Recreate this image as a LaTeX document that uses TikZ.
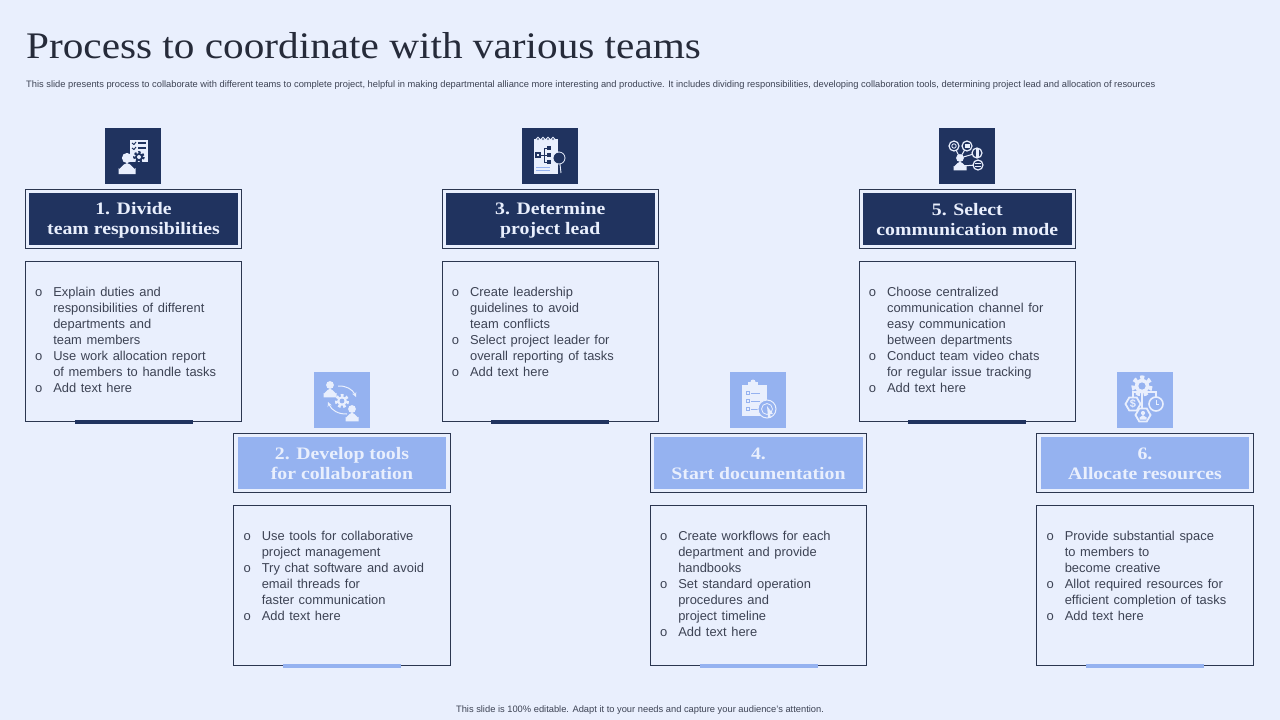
\documentclass[tikz,border=0pt]{standalone}
\usepackage{fontspec}
\setmainfont{Liberation Sans}
\newfontfamily\headfont[FakeStretch=1.1]{Liberation Serif}
\newfontfamily\stepfont[FakeStretch=1.13]{Liberation Serif}
\newfontfamily\listfont[WordSpace=1.3]{Liberation Sans}
\usetikzlibrary{positioning}
\usetikzlibrary{shapes.geometric}
\usetikzlibrary{arrows}
\definecolor{page colour}{HTML}{E9EFFD}
\definecolor{dark colour}{HTML}{20335F}
\definecolor{light colour}{HTML}{95B2F0}
\definecolor{line colour}{HTML}{2B3650}
\definecolor{text colour}{HTML}{3D4354}
\definecolor{title colour}{HTML}{262B3A}
\tikzset{
    % One unit is one pixel of the slide
    x=1pt, y=-1pt,
    >=stealth,
    outer box/.style={draw=line colour, line width=0.9pt, minimum width=216.5pt, minimum height=58.5pt},
    head box/.style={minimum width=208.5pt, minimum height=52pt, inner sep=0},
    head text/.style={inner sep=0, text=page colour, align=center,
        font=\stepfont\fontsize{17.5}{20}\selectfont\bfseries},
    body box/.style={draw=line colour, line width=0.9pt, minimum width=216.5pt, minimum height=160pt},
    body text/.style={anchor=north west, inner sep=0, align=left, text=text colour,
        font=\listfont\fontsize{12.9}{16}\selectfont},
    icon box/.style={minimum width=56pt, minimum height=56pt, inner sep=0},
    bar/.style={minimum width=118pt, minimum height=4pt, inner sep=0},
}
% Bullet hanging to the left of a text line
\newcommand{\bul}{\makebox[0pt][r]{\fontsize{13}{16}\selectfont o\hspace{11pt}}}
% A gear, as a disc with a dashed ring for teeth
\newcommand{\gear}[5]{
    \draw [#4, line width=#3*0.45pt, dash pattern=on #3*0.45pt off #3*0.4pt] (#1,#2) circle (#3*0.95);
    \fill [#4] (#1,#2) circle (#3*0.8);
    \fill [#5] (#1,#2) circle (#3*0.4);
}
\newcommand{\person}[4]{
    \fill [#4] (#1,#2) circle (#3*0.6);
    \fill [#4] (#1-#3,#2+#3*1.9) -- (#1-#3,#2+#3*1.2) to [out=-90, in=180] (#1,#2+#3*0.6)
        to [out=0, in=-90] (#1+#3,#2+#3*1.2) -- (#1+#3,#2+#3*1.9) -- cycle;
}
% One step: name, centre x, heading centre y, colour, heading, list, list y
\newcommand{\teamstep}[7]{
    \node [outer box] (outer #1) at (#2,#3) {};
    \node [head box, fill=#4] (head #1) at (#2,#3) {};
    \node [head text] (label #1) at (#2,#3+1) {#5};
    \node [body box, anchor=north] (body #1) at (#2,#3+42) {};
    \node [bar, fill=#4] (bar #1) at (body #1.south) {};
    \node [icon box, fill=#4] (icon #1) at (#2-0.5,#3-63.5) {};
    \node [body text] (list #1) at (#2-80.4,#7) {#6};
}
\begin{document}
\begin{tikzpicture}

% Fixes the extent of the slide
\path [use as bounding box, fill=page colour] (0,0) rectangle (1280,720);

\node [anchor=west, inner sep=0, text=title colour, font=\headfont\fontsize{37.5}{40}\selectfont] (title) at (26,46)
    {Process to coordinate with various teams};
\node [anchor=west, inner sep=0, text=text colour, font=\fontsize{9.33}{10}\selectfont] (subtitle) at (26,85)
    {This slide presents process to collaborate with different teams to complete project, helpful in making departmental alliance more interesting and productive. It includes dividing responsibilities, developing collaboration tools, determining project lead and allocation of resources};
\node [inner sep=0, text=text colour, font=\fontsize{9.33}{10}\selectfont] (footer) at (640,710)
    {This slide is 100\% editable. Adapt it to your needs and capture your audience's attention.};

% Steps on the upper row
\teamstep{1}{133.5}{219}{dark colour}{1. Divide\\team responsibilities}
    {\bul Explain duties and\\responsibilities of different\\departments and\\team members\\\bul Use work allocation report\\of members to handle tasks\\\bul Add text here}{287}
\teamstep{3}{550.3}{219}{dark colour}{3. Determine\\project lead}
    {\bul Create leadership\\guidelines to avoid\\team conflicts\\\bul Select project leader for\\overall reporting of tasks\\\bul Add text here}{287}
\teamstep{5}{967.3}{219}{dark colour}{5. Select\\communication mode}
    {\bul Choose centralized\\communication channel for\\easy communication\\between departments\\\bul Conduct team video chats\\for regular issue tracking\\\bul Add text here}{287}

% Steps on the lower row
\teamstep{2}{342}{463}{light colour}{2. Develop tools\\for collaboration}
    {\bul Use tools for collaborative\\project management\\\bul Try chat software and avoid\\email threads for\\faster communication\\\bul Add text here}{531}
\teamstep{4}{758.5}{463}{light colour}{4.\\Start documentation}
    {\bul Create workflows for each\\department and provide\\handbooks\\\bul Set standard operation\\procedures and\\project timeline\\\bul Add text here}{531}
\teamstep{6}{1145}{463}{light colour}{6.\\Allocate resources}
    {\bul Provide substantial space\\to members to\\become creative\\\bul Allot required resources for\\efficient completion of tasks\\\bul Add text here}{531}

% Icon 1: person with checklist
\fill [page colour] (130,140) rectangle (148,162);
\foreach \y in {143,148} {
    \draw [dark colour, line width=1pt] (132,\y) -- (134,\y+1.5) -- (136,\y-1);
    \draw [dark colour, line width=1.4pt] (138,\y) -- (146,\y); }
\gear{139}{157}{5}{dark colour}{page colour}
\person{127}{158}{8.5}{page colour}

% Icon 3: notebook and magnifier
\fill [page colour] (534,139) rectangle (558,174);
\foreach \x in {538,543,548,553}
    \draw [page colour, fill=dark colour, line width=0.8pt] (\x,139) circle (1.7);
\draw [dark colour, line width=0.7pt] (540,155) -- (544,155) (544,148) -- (544,162)
    (544,148) -- (547,148) (544,155) -- (547,155) (544,162) -- (547,162);
\foreach \y in {148,155,162} \fill [dark colour] (547,\y-2) rectangle (551,\y+2);
\fill [dark colour] (535,152) rectangle (541,158);
\fill [page colour] (537,154) rectangle (539,156);
\draw [light colour, line width=0.8pt] (536,167) -- (550,167) (536,170) -- (550,170);
\draw [page colour, line width=0.8pt, fill=dark colour] (559,158) circle (6);
\fill [page colour] (553,158) arc (180:270:6) -- (559,152) arc (90:180:6) -- cycle;
\draw [page colour, line width=0.9pt] (560,164) -- (561,173);

% Icon 5: person with channels
\draw [page colour, line width=1pt] (960,158) -- (954,146) (960,158) -- (967,146)
    (960,158) -- (977,153) (960,166) -- (978,165);
\person{960}{158}{6.5}{page colour}
\foreach \x/\y in {954/146, 967/146, 977/153, 978/165}
    \draw [page colour, line width=1.2pt, fill=dark colour] (\x,\y) circle (5);
\draw [page colour, line width=0.8pt] (954,146) circle (2.2);
\fill [page colour] (964.5,144) rectangle (969.5,147.5);
\fill [page colour] (975.5,148.5) rectangle (978.5,157.5);
\draw [page colour, line width=0.8pt] (975,163.5) -- (981,163.5) (975,166.5) -- (981,166.5);

% Icon 2: two people around a gear
\person{330}{385}{6.5}{page colour}
\person{352}{409}{6.5}{page colour}
\gear{342}{401}{6}{page colour}{light colour}
\draw [->, page colour, line width=1pt] (338,386) to [bend left=35] (356,397);
\draw [->, page colour, line width=1pt] (347,414) to [bend left=35] (328,402);

% Icon 4: clipboard and target
\fill [page colour] (742,385) rectangle (767,416);
\fill [page colour] (748,382) rectangle (758,387);
\fill [page colour] (753,382) circle (2.5);
\foreach \y in {393,401,409} {
    \draw [light colour, line width=0.6pt] (746,\y-1.5) rectangle (749,\y+1.5);
    \draw [light colour, line width=1pt] (751,\y) -- (760,\y); }
\draw [page colour, fill=light colour, line width=1pt] (767,409) circle (9);
\draw [page colour, line width=0.8pt] (767,409) circle (5.5);
\fill [page colour] (767,406) -- (773,414) -- (770,414) -- (771,418) -- (768,417) -- cycle;

% Icon 6: gear linked to money, time and people
\draw [page colour, line width=1.2pt] (1142,390) -- (1142,410) (1133,397) -- (1133,392) -- (1156,392) -- (1156,397);
\gear{1142}{386}{9}{page colour}{light colour}
\foreach \x/\y in {1133/404, 1143/415}
    \node [draw=page colour, fill=light colour, line width=1.8pt, regular polygon, regular polygon sides=6,
        minimum size=15pt, inner sep=0] (hex \x) at (\x,\y) {};
\node [inner sep=0, text=page colour, font=\bfseries\fontsize{11}{11}\selectfont] (dollar) at (hex 1133) {\$};
\person{1143}{413}{3.5}{page colour}
\draw [page colour, fill=light colour, line width=1.6pt] (1156,404) circle (7);
\draw [page colour, line width=0.8pt] (1156,400) -- (1156,404) -- (1159,404);

\end{tikzpicture}
\end{document}
